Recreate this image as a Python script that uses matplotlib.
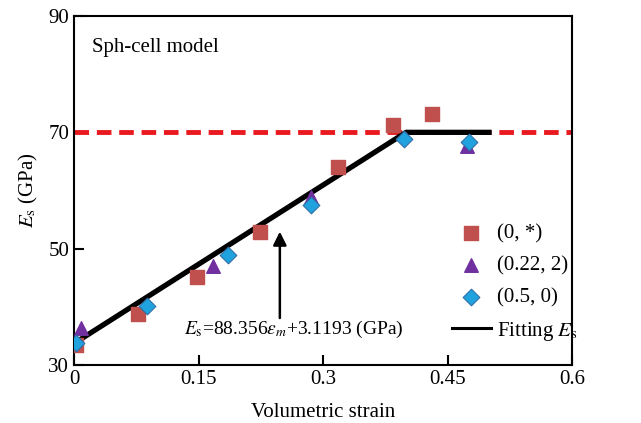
import matplotlib
matplotlib.use("Agg")
import matplotlib.pyplot as plt
from matplotlib.lines import Line2D

plt.rcParams['font.family'] = ['Liberation Serif', 'DejaVu Serif']
plt.rcParams['mathtext.fontset'] = 'stix'

sq_x = [0.003, 0.077, 0.148, 0.224, 0.318, 0.384, 0.431]
sq_y = [33.4, 38.8, 45.2, 52.8, 64.0, 71.2, 73.2]
tri_x = [0.009, 0.167, 0.285, 0.473]
tri_y = [36.3, 47.0, 58.9, 67.6]
dia_x = [0.002, 0.088, 0.185, 0.286, 0.398, 0.476]
dia_y = [33.8, 40.1, 48.9, 57.5, 68.8, 68.4]
fit_x = [0.0, 0.40, 0.50]
fit_y = [33.7, 70.0, 70.0]
ref_y = 70.0

FS = 15

fig = plt.figure(figsize=(6.41, 4.23), dpi=100)
ax = fig.add_axes([74/641, 1-365/423, (572-74)/641, (365-16)/423])

ax.axhline(ref_y, color='#E8191F', lw=3.5, ls=(0, (3, 1.6)), zorder=2)
ax.plot(fit_x, fit_y, color='black', lw=3.8, zorder=3)
s1 = ax.scatter(sq_x, sq_y, marker='s', s=115, color='#C0504D', zorder=4, label='(0, *)')
s2 = ax.scatter(tri_x, tri_y, marker='^', s=95, color='#7030A0', zorder=5, label='(0.22, 2)')
s3 = ax.scatter(dia_x, dia_y, marker='D', s=72, color='#1FA2DD', edgecolor='#2F6FA8', lw=0.8, zorder=6, label='(0.5, 0)')
line_h = Line2D([], [], color='black', lw=2.2, label=r'Fitting $E_{\rm s}$')

ax.set_xlim(0, 0.6)
ax.set_ylim(30, 90)
ax.set_xticks([0, 0.15, 0.3, 0.45, 0.6])
ax.set_xticklabels(['0', '0.15', '0.3', '0.45', '0.6'])
ax.set_yticks([30, 50, 70, 90])
ax.tick_params(direction='in', length=7, width=1.5, labelsize=FS)
for s in ax.spines.values():
    s.set_linewidth(1.5)

ax.set_xlabel('Volumetric strain', fontsize=FS, labelpad=10)
ax.set_ylabel(r'$E_{\rm s}$ (GPa)', fontsize=FS, labelpad=6)

ax.text(0.022, 84.5, 'Sph-cell model', fontsize=FS, va='center', ha='left')

ax.annotate('', xy=(0.248, 53.4), xytext=(0.248, 37.6),
            arrowprops=dict(arrowstyle='-|>', color='black', lw=1.8, mutation_scale=20))
ax.text(0.265, 35.3, r'$E_{\rm s}$=88.356$\varepsilon_m$+3.1193 (GPa)', fontsize=14,
        ha='center', va='baseline')

ax.legend(handles=[s1, s2, s3, line_h], loc='lower right', frameon=False, fontsize=FS,
          bbox_to_anchor=(1.05, 0.01), handlelength=1.9, labelspacing=0.6, handletextpad=0.3)

fig.savefig('out.png', dpi=100)
